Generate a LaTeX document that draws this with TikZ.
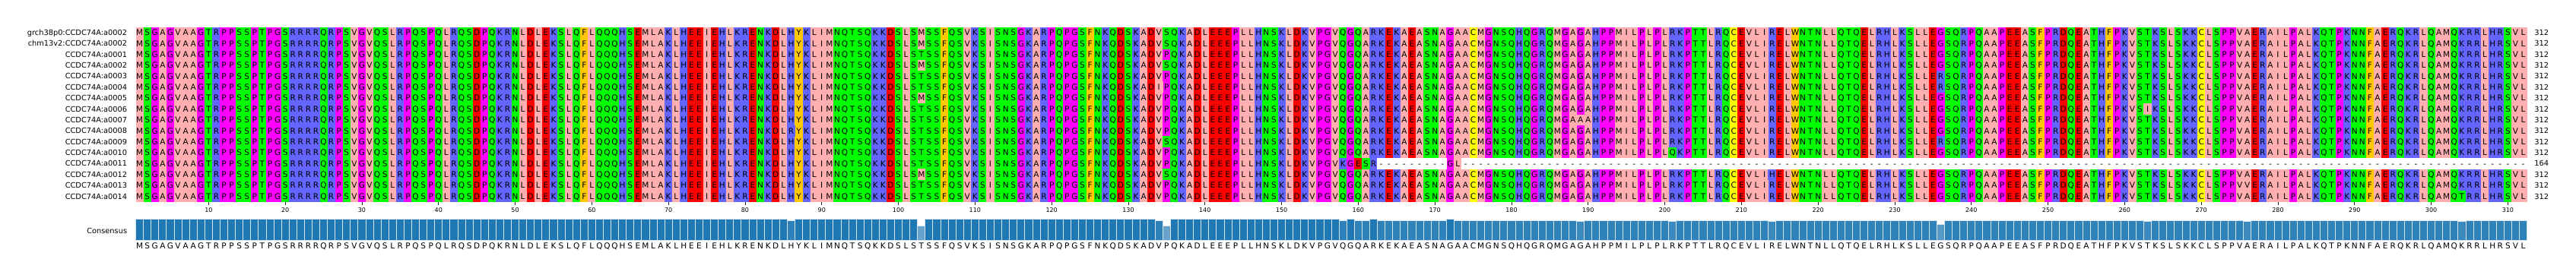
\documentclass[tikz,border=0pt]{standalone}
\usepackage{fontspec}
\setmainfont{DejaVu Sans}
\usepackage{tikz}

% zappo colours
\definecolor{zpA}{HTML}{FFAFAF}\definecolor{zpV}{HTML}{FFAFAF}\definecolor{zpL}{HTML}{FFAFAF}
\definecolor{zpI}{HTML}{FFAFAF}\definecolor{zpM}{HTML}{FFAFAF}
\definecolor{zpF}{HTML}{FFC800}\definecolor{zpW}{HTML}{FFC800}\definecolor{zpY}{HTML}{FFC800}
\definecolor{zpK}{HTML}{6464FF}\definecolor{zpR}{HTML}{6464FF}\definecolor{zpH}{HTML}{6464FF}
\definecolor{zpD}{HTML}{FF0000}\definecolor{zpE}{HTML}{FF0000}
\definecolor{zpS}{HTML}{00FF00}\definecolor{zpT}{HTML}{00FF00}\definecolor{zpN}{HTML}{00FF00}
\definecolor{zpQ}{HTML}{00FF00}
\definecolor{zpP}{HTML}{FF00FF}\definecolor{zpG}{HTML}{FF00FF}
\definecolor{zpC}{HTML}{FFFF00}
\definecolor{tabblue}{HTML}{1F77B4}
\definecolor{barline}{HTML}{D5E5F0}

\newcommand\alnseq{\fontsize{10.5}{12}\selectfont}
\newcommand\alnlab{\fontsize{9.8}{12}\selectfont}
\newcommand\alntick{\fontsize{8}{10}\selectfont}

\def\consseq{MSGAGVAAGT RPPSSPTPGS RRRRQRPSVG VQSLRPQSPQ LRQSDPQKRN LDLEKSLQFL
 QQQHSEMLAK LHEEIEHLKR ENKDLHYKLI MNQTSQKKDS LSTSSFQSVK SISNSGKARP
 QPGSFNKQDS KADVPQKADL EEEPLLHNSK LDKVPGVQGQ ARKEKAEASN AGAACMGNSQ
 HQGRQMGAGA HPPMILPLPL RKPTTLRQCE VLIRELWNTN LLQTQELRHL KSLLEGSQRP
 QAAPEEASFP RDQEATHFPK VSTKSLSKKC LSPPVAERAI LPALKQTPKN NFAERQKRLQ
 AMQKRRLHRS VL}

\newcount\alcol
\newcommand\colscan[1]{%
  \ifx#1\relax\else
    \global\advance\alcol by 1
    \fill[zp#1] (\the\alcol-1,0) rectangle (\the\alcol+0.04,16);
    \foreach \r in {1,...,16} \node[res] at (\the\alcol-0.5,\r-0.5) {#1};
    \node[res] (cons\the\alcol) at (\the\alcol-0.5,20.06) {#1};
    \expandafter\colscan
  \fi}

\begin{document}
\begin{tikzpicture}[x=10.08pt,y=-14.375pt,
  res/.style={inner sep=0pt,text height=7.65pt,text depth=0pt,font=\alnseq},
  cell/.style={res,minimum width=10.5pt,minimum height=14.7pt},
  rowlab/.style={anchor=east,inner sep=0pt,text height=7.15pt,text depth=0pt,font=\alnlab},
  lenlab/.style={rowlab,anchor=west},
  ticklab/.style={inner sep=0pt,text height=5.8pt,text depth=0pt,font=\alntick},
  bar/.style={draw=barline,line width=0.9pt}]
 \useasboundingbox (-17.718,-2.4835) rectangle (318.393,22.977);
 % columns of the alignment, coloured by consensus residue
 \global\alcol=0
 \expandafter\colscan\consseq\relax
 % residues that differ from the consensus
 \foreach \c/\r/\a in {86/10/R,103/1/M,103/2/M,103/4/M,103/7/M,103/14/M,134/6/I,
   135/1/S,135/2/S,135/4/S,135/11/S,135/14/S,158/13/K,160/13/E,161/13/S,173/13/L,
   189/9/A,201/12/Q,214/14/H,236/5/R,236/6/R,236/11/R,263/8/I,276/15/V,304/16/T}
   \node[cell,fill=zp\a] at (\c-0.5,\r-0.5) {\a};
 \foreach \c in {163,...,171} \node[cell,fill=white] at (\c-0.5,12.5) {-};
 \foreach \c in {174,...,312} \node[cell,fill=white] at (\c-0.5,12.5) {-};
 % names and lengths
 \foreach \r/\lab in {1/grch38p0:CCDC74A:a0002,2/chm13v2:CCDC74A:a0002,3/CCDC74A:a0001,
   4/CCDC74A:a0002,5/CCDC74A:a0003,6/CCDC74A:a0004,7/CCDC74A:a0005,8/CCDC74A:a0006,
   9/CCDC74A:a0007,10/CCDC74A:a0008,11/CCDC74A:a0009,12/CCDC74A:a0010,13/CCDC74A:a0011,
   14/CCDC74A:a0012,15/CCDC74A:a0013,16/CCDC74A:a0014}
   \node[rowlab] (lab\r) at (-1.12,\r-0.5) {\lab};
 \foreach \r in {1,...,12,14,15,16} \node[lenlab] (len\r) at (312.95,\r-0.5) {312};
 \node[lenlab] (len13) at (312.95,12.5) {164};
 % position ticks
 \foreach \t in {10,20,...,310}{
   \draw[black!85,line width=0.8pt] (\t-0.5,16) -- (\t-0.5,16.3);
   \node[ticklab] (tk\t) at (\t-0.5,16.77) {\t};
 }
 % consensus identity bars
 \foreach \c/\n in {86/15,103/11,134/15,135/11,158/15,160/15,161/15,172/16,
   189/14,201/14,214/14,236/12,263/14,276/14,304/14}
   {\expandafter\xdef\csname idn\c\endcsname{\n}}
 \foreach \c in {1,...,312}{
   \ifnum\c>162 \def\n{15}\else\def\n{16}\fi
   \ifcsname idn\c\endcsname\edef\n{\csname idn\c\endcsname}\fi
   \pgfmathsetmacro\bh{19.55-1.976*\n/16}
   \pgfmathtruncatemacro\pc{100*\n/16}
   \filldraw[bar,fill=tabblue!\pc!white] (\c-1,19.55) rectangle (\c,\bh);
 }
 \node[rowlab] (conslab) at (-1.12,18.66) {Consensus};
\end{tikzpicture}
\end{document}
